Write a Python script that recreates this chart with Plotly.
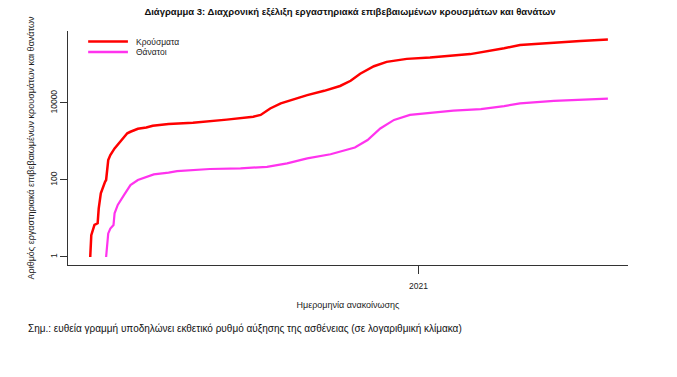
import plotly.graph_objects as go

title = "Διάγραμμα 3: Διαχρονική εξέλιξη εργαστηριακά επιβεβαιωμένων κρουσμάτων και θανάτων"
y_title = "Αριθμός εργαστηριακά επιβεβαιωμένων κρουσμάτων και θανάτων"
x_title = "Ημερομηνία ανακοίνωσης"
note = "Σημ.: ευθεία γραμμή υποδηλώνει εκθετικό ρυθμό αύξησης της ασθένειας (σε λογαριθμική κλίμακα)"
legend_names = ["Κρούσματα", "Θάνατοι"]
colors = ["#FF0000", "#FF33EE"]

case_dates = ["2020-02-26", "2020-02-27", "2020-03-01", "2020-03-04", "2020-03-05", "2020-03-07",
              "2020-03-11", "2020-03-12", "2020-03-14", "2020-03-16", "2020-03-20", "2020-03-25",
              "2020-04-01", "2020-04-04", "2020-04-11", "2020-04-19", "2020-04-25", "2020-05-10",
              "2020-06-02", "2020-07-04", "2020-07-17", "2020-07-29", "2020-08-05", "2020-08-14",
              "2020-08-24", "2020-09-05", "2020-09-18", "2020-10-04", "2020-10-19", "2020-10-29",
              "2020-11-07", "2020-11-20", "2020-12-02", "2020-12-21", "2021-01-12", "2021-02-19",
              "2021-03-07", "2021-03-23", "2021-04-07", "2021-05-09", "2021-06-03", "2021-06-29"]
cases = [1, 3.7, 6.8, 7.5, 18, 45,
         90, 100, 330, 445, 660, 990,
         1630, 1790, 2140, 2300, 2560, 2840,
         3070, 3700, 4000, 4400, 4900, 7200,
         9800, 12500, 16000, 20700, 27700, 37800,
         57700, 90000, 117000, 140000, 152000, 186000,
         218000, 265000, 320000, 370000, 409000, 446000]

death_dates = ["2020-03-12", "2020-03-14", "2020-03-16", "2020-03-19", "2020-03-20", "2020-03-23",
               "2020-03-29", "2020-04-04", "2020-04-11", "2020-04-19", "2020-04-26", "2020-05-10",
               "2020-05-18", "2020-06-18", "2020-07-17", "2020-08-11", "2020-08-30", "2020-09-18",
               "2020-10-10", "2020-11-02", "2020-11-14", "2020-11-26", "2020-12-09", "2020-12-24",
               "2021-01-12", "2021-02-03", "2021-03-01", "2021-03-23", "2021-04-07", "2021-05-09",
               "2021-06-29"]
deaths = [1, 4.1, 5.5, 6.8, 13.6, 22.5,
          41, 74, 100, 122, 140, 155,
          170, 193, 200, 220, 270, 365,
          465, 700, 1090, 2180, 3640, 4900,
          5600, 6300, 6970, 8300, 9800, 11300,
          13000]

y_tickvals = [1, 100, 10000]
y_ticktext = ["1", "100", "10000"]
x_tickvals = ["2021-01-01"]
x_ticktext = ["2021"]

FONT = "Liberation Sans Narrow, Arial Narrow, Liberation Sans, Arial, sans-serif"

fig = go.Figure()
fig.add_trace(go.Scatter(x=case_dates, y=cases, mode="lines", name=legend_names[0],
                         line=dict(color=colors[0], width=2.5), showlegend=False))
fig.add_trace(go.Scatter(x=death_dates, y=deaths, mode="lines", name=legend_names[1],
                         line=dict(color=colors[1], width=2.2), showlegend=False))

# manual legend (R-style, compact)
leg_y = [0.955, 0.91]
for name, col, ly in zip(legend_names, colors, leg_y):
    fig.add_shape(type="line", xref="paper", yref="paper", x0=0.036, x1=0.107, y0=ly, y1=ly,
                  line=dict(color=col, width=2.5))
    fig.add_annotation(text=name, xref="paper", yref="paper", x=0.118, y=ly,
                       xanchor="left", yanchor="middle", showarrow=False,
                       font=dict(size=8.5, color="#222"))

fig.update_layout(
    width=677, height=377,
    margin=dict(l=68, r=49, t=31, b=112),
    paper_bgcolor="white", plot_bgcolor="white",
    font=dict(family=FONT, size=9, color="#222"),
    title=dict(text="<b>" + title + "</b>", x=0.517, xanchor="center", y=0.968, yanchor="middle",
               font=dict(size=9.5, color="#111")),
    showlegend=False,
    xaxis=dict(type="date", range=["2020-02-05", "2021-07-18"], showgrid=False, zeroline=False,
               showline=True, linecolor="#333", linewidth=1, automargin=False,
               tickvals=x_tickvals, ticktext=x_ticktext, ticks="outside", ticklen=8,
               ticklabelstandoff=5,
               tickcolor="#333", tickfont=dict(size=8.5, color="#222"),
               title=dict(text=x_title, font=dict(size=9, color="#222"), standoff=11)),
    yaxis=dict(type="log", range=[-0.208, 5.87], showgrid=False, zeroline=False,
               showline=True, linecolor="#333", linewidth=1, automargin=False,
               tickvals=y_tickvals, ticktext=y_ticktext, ticks="outside", ticklen=7,
               ticklabelstandoff=0,
               tickcolor="#333", tickangle=-90, tickfont=dict(size=8.5, color="#222"),
               title=dict(text=y_title, font=dict(size=9, color="#222"), standoff=12)),
)

fig.add_annotation(text=note, xref="paper", yref="paper", x=-0.075, y=-0.272,
                   xanchor="left", yanchor="middle", showarrow=False,
                   font=dict(size=10, color="#111"))

fig.write_html("out.html", config={"displayModeBar": False},
               post_script="document.body.style.margin='0';")
